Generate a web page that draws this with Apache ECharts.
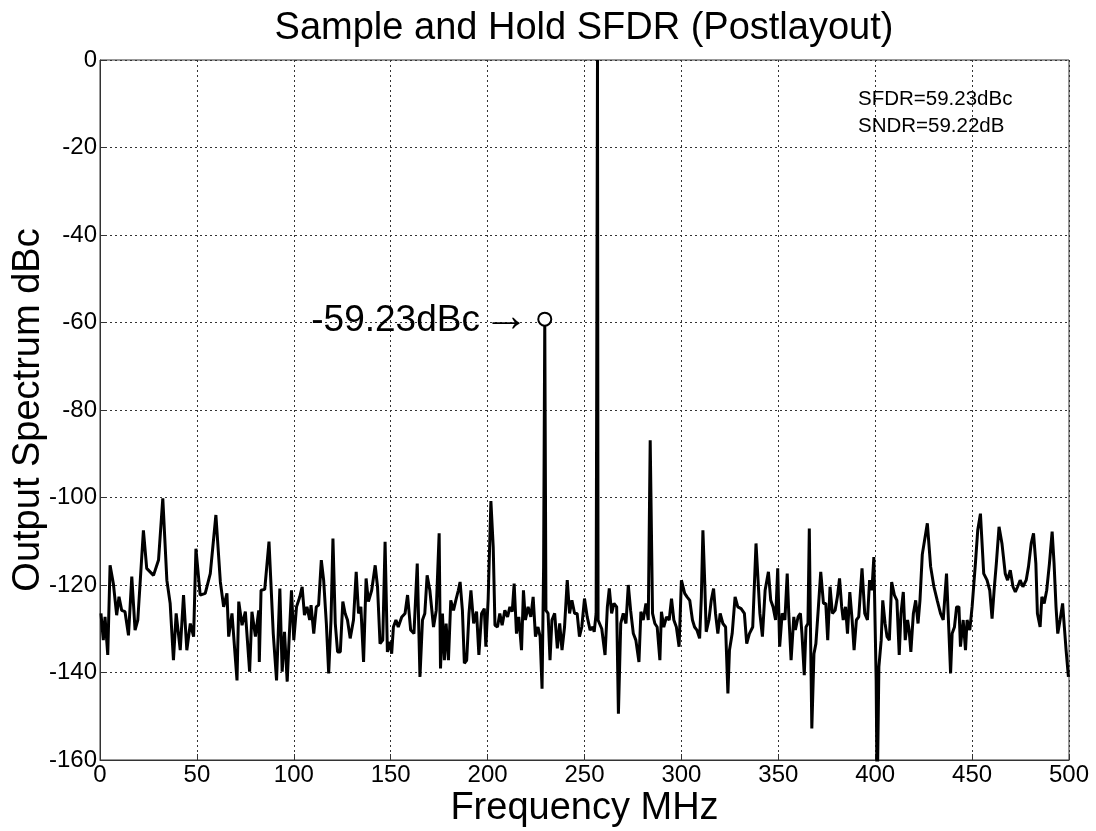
<!DOCTYPE html>
<html>
<head>
<meta charset="utf-8">
<title>Sample and Hold SFDR</title>
<script src="https://cdn.jsdelivr.net/npm/echarts@6/dist/echarts.min.js"></script>
<style>
  html, body { margin: 0; padding: 0; background: #fff; }
  #main { width: 1096px; height: 831px; }
</style>
</head>
<body>
<div id="main"></div>
<script>
// spectrum: frequency (MHz) and level (dBc)
var freqs = [
  0.5, 1.7, 2.6, 4.0, 5.2, 6.9, 8.6, 9.8, 11.2, 12.9, 14.7, 16.4, 18.1, 19.5, 22.4, 24.1, 27.6, 30.2, 32.4, 34.5,
  36.2, 37.9, 39.3, 41.4, 43.1, 44.8, 46.6, 48.3, 49.5, 51.7, 54.3, 56.9, 59.8, 62.1, 63.8, 65.5, 66.4, 68.1, 70.7, 71.6,
  73.3, 75.0, 77.2, 78.4, 80.2, 81.9, 82.2, 83.1, 85.0, 87.2, 89.4, 91.1, 92.8, 94.0, 95.2, 96.6, 97.4, 98.8, 100.0, 101.4,
  103.1, 104.3, 105.5, 106.8, 108.2, 108.9, 110.3, 111.6, 112.8, 114.2, 115.4, 116.8, 118.0, 119.2, 120.2, 121.4, 122.6, 124.0, 125.3, 126.5,
  127.7, 129.1, 130.8, 132.2, 133.4, 134.6, 136.0, 137.3, 138.5, 140.2, 142.0, 143.2, 144.5, 145.9, 147.1, 148.3, 149.7, 150.5, 151.4, 152.7,
  153.9, 155.7, 157.4, 158.7, 160.3, 162.0, 163.7, 165.1, 166.4, 167.6, 168.8, 170.2, 172.1, 173.5, 175.0, 175.7, 176.7, 177.7, 178.6, 179.8,
  181.0, 182.4, 183.6, 184.9, 185.8, 187.0, 188.0, 189.2, 190.4, 191.4, 192.8, 194.3, 195.5, 196.9, 198.3, 199.1, 200.3, 201.7, 202.9, 203.8,
  205.1, 206.3, 207.5, 208.9, 210.3, 211.5, 212.7, 213.7, 214.9, 216.1, 217.5, 218.5, 219.5, 220.9, 222.3, 223.5, 224.7, 226.0, 227.1, 228.1,
  228.9, 229.5, 230.1, 231.2, 232.2, 233.2, 234.6, 236.0, 237.2, 238.4, 239.7, 241.1, 242.3, 243.5, 244.9, 246.2, 247.4, 248.6, 250.0, 251.4,
  252.9, 254.3, 255.0, 256.0, 256.7, 257.0, 258.9, 260.6, 261.8, 262.8, 264.0, 265.2, 266.6, 267.5, 268.7, 270.0, 271.4, 272.6, 273.8, 275.2,
  276.5, 278.1, 279.1, 280.3, 281.7, 282.9, 283.9, 285.1, 286.3, 287.5, 288.9, 289.7, 290.9, 292.3, 293.7, 294.9, 296.1, 297.4, 298.8, 300.0,
  301.7, 302.9, 304.3, 305.7, 306.8, 308.0, 309.4, 310.3, 311.1, 312.0, 312.8, 314.2, 315.4, 316.6, 317.6, 318.8, 320.0, 321.4, 322.8, 324.0,
  324.8, 326.2, 327.7, 329.1, 330.8, 332.5, 333.7, 335.1, 336.8, 338.5, 340.5, 341.8, 343.2, 344.9, 346.1, 347.3, 348.6, 349.7, 350.7, 352.0,
  353.4, 354.6, 355.4, 356.6, 358.0, 358.8, 360.2, 361.4, 362.2, 363.4, 364.3, 365.3, 366.0, 366.5, 367.3, 368.4, 369.4, 370.7, 371.9, 373.3,
  374.5, 375.5, 376.7, 377.9, 379.3, 380.5, 381.6, 382.7, 383.5, 384.7, 385.7, 386.9, 388.1, 389.1, 390.3, 391.5, 393.2, 394.6, 396.0, 397.1,
  398.3, 399.3, 400.5, 401.0, 401.9, 403.1, 403.9, 405.1, 406.1, 407.3, 408.5, 409.9, 411.2, 412.4, 413.3, 414.5, 415.5, 416.7, 417.5, 418.4,
  419.7, 420.9, 422.1, 423.1, 424.3, 426.9, 428.6, 430.3, 432.0, 433.7, 435.1, 436.8, 438.0, 438.9, 439.7, 440.9, 442.0, 443.2, 444.0, 445.4,
  446.6, 447.4, 448.8, 450.0, 451.7, 452.9, 454.3, 456.0, 457.7, 459.1, 460.3, 461.5, 462.5, 463.9, 465.4, 467.1, 468.3, 469.7, 471.1, 472.3,
  473.5, 474.8, 476.2, 477.9, 479.1, 480.5, 481.7, 482.9, 483.7, 485.1, 486.0, 487.2, 488.5, 489.9, 491.3, 492.3, 493.3, 494.2, 495.4, 496.7,
  497.6, 498.5, 499.7
];
var levels = [
  -126.5, -132.6, -127.3, -136.0, -115.5, -119.7, -126.9, -122.7, -125.8, -126.1, -131.5, -118.1, -130.3, -128.0, -107.5, -116.2, -117.8, -114.3, -100.2, -118.9,
  -124.2, -137.2, -126.5, -134.9, -122.3, -134.9, -128.8, -131.8, -111.7, -122.3, -121.9, -117.4, -104.0, -119.3, -125.0, -121.9, -131.8, -126.5, -141.8, -123.8,
  -129.2, -126.1, -139.8, -126.1, -131.8, -125.8, -137.6, -121.2, -121.0, -110.1, -131.1, -141.8, -120.8, -139.8, -130.7, -142.1, -134.1, -121.2, -132.6, -125.0,
  -122.7, -120.4, -126.9, -125.0, -128.0, -124.6, -131.1, -125.0, -124.6, -114.3, -118.9, -128.8, -140.2, -128.0, -109.4, -128.8, -135.3, -135.3, -123.8, -126.5,
  -128.0, -132.2, -128.0, -117.0, -126.5, -125.0, -137.6, -118.5, -123.8, -121.2, -115.5, -120.4, -133.4, -132.6, -110.1, -135.3, -133.0, -135.7, -129.6, -128.0,
  -129.6, -127.3, -126.5, -122.3, -130.3, -131.1, -115.1, -141.0, -128.0, -126.5, -117.8, -121.2, -129.6, -125.8, -108.2, -139.1, -126.5, -137.2, -128.8, -137.2,
  -123.5, -125.8, -123.5, -121.2, -119.3, -125.8, -137.9, -137.2, -126.5, -121.2, -128.8, -126.1, -136.0, -126.5, -125.4, -134.1, -123.1, -100.8, -111.3, -129.2,
  -129.6, -126.5, -129.2, -125.8, -127.3, -125.0, -126.1, -119.7, -131.1, -127.3, -134.9, -121.2, -128.0, -125.0, -127.3, -122.7, -131.8, -129.6, -131.8, -143.7,
  -115.8, -59.23, -125.8, -126.5, -137.2, -128.0, -126.5, -134.5, -128.8, -134.9, -129.6, -118.9, -126.5, -123.5, -126.5, -126.5, -131.8, -129.6, -123.1, -127.3,
  -130.3, -129.6, -130.7, -126.5, 0, -128.0, -130.0, -136.0, -125.0, -120.8, -126.5, -124.2, -125.0, -149.4, -128.8, -126.5, -128.8, -120.0, -125.8, -131.1,
  -132.6, -137.6, -126.1, -128.0, -124.2, -128.0, -86.9, -126.5, -128.8, -129.6, -137.2, -126.1, -129.6, -127.3, -128.0, -123.1, -128.0, -129.6, -134.1, -118.9,
  -121.9, -122.7, -123.5, -128.0, -129.6, -130.3, -132.2, -122.7, -107.5, -118.9, -130.7, -128.0, -123.5, -120.8, -126.5, -131.1, -126.5, -128.8, -129.6, -144.8,
  -134.9, -131.1, -122.7, -125.0, -125.4, -126.5, -133.4, -131.1, -129.6, -110.5, -126.5, -131.8, -121.2, -117.0, -123.5, -125.0, -128.0, -116.2, -134.1, -126.5,
  -128.0, -117.4, -126.5, -137.2, -127.3, -130.3, -127.3, -126.5, -131.1, -140.6, -129.6, -128.8, -107.1, -126.5, -152.8, -135.7, -133.4, -125.0, -117.0, -124.2,
  -124.2, -132.6, -120.4, -126.5, -125.8, -122.7, -118.5, -125.0, -128.0, -125.0, -131.1, -121.6, -128.0, -134.9, -128.0, -127.3, -116.2, -126.5, -128.0, -118.9,
  -121.2, -113.6, -141.8, -170.0, -138.7, -132.6, -123.5, -128.8, -131.8, -132.6, -119.3, -122.3, -123.5, -136.0, -126.5, -121.6, -132.6, -128.0, -130.3, -135.3,
  -126.5, -123.5, -128.8, -123.5, -113.0, -105.9, -115.8, -120.4, -123.5, -126.5, -128.0, -117.4, -130.3, -140.2, -131.1, -129.6, -125.0, -125.0, -134.1, -128.0,
  -134.9, -128.0, -130.3, -125.0, -115.1, -107.5, -103.7, -117.4, -118.9, -121.2, -127.7, -120.4, -115.1, -106.7, -110.5, -117.4, -118.9, -116.6, -120.4, -121.6,
  -120.4, -118.9, -120.4, -118.9, -115.8, -110.5, -108.2, -115.1, -126.5, -129.6, -122.7, -124.2, -121.2, -115.1, -107.8, -115.1, -125.0, -131.1, -128.0, -124.2,
  -129.6, -134.9, -141.0
];

// the marked spur
var spurFreq = 229.5;
var spurLevel = -59.23;
var spurText = '-59.23dBc';
var statsText = ['SFDR=59.23dBc', 'SNDR=59.22dB'];

var chart = echarts.init(document.getElementById('main'));

var seriesData = [];
for (var i = 0; i < freqs.length; i++) {
    seriesData.push([freqs[i], levels[i]]);
}

var font = 'Liberation Sans, Arial, sans-serif';
var gridLine = { show: true, lineStyle: { color: '#333', type: [2, 3], width: 1 } };

var option = {
    animation: false,
    backgroundColor: '#fff',
    textStyle: { fontFamily: font },
    title: [
        {
            text: 'Sample and Hold SFDR (Postlayout)',
            left: 584,
            top: 10,
            padding: 0,
            textAlign: 'center',
            textStyle: { fontFamily: font, fontSize: 38, fontWeight: 'normal', color: '#000' }
        },
        {
            text: statsText.join('\n'),
            left: 858,
            top: 86,
            padding: 0,
            textStyle: { fontFamily: font, fontSize: 20.5, lineHeight: 27, fontWeight: 'normal', color: '#000' }
        }
    ],
    grid: {
        left: 100,
        right: 27,
        top: 60,
        bottom: 71,
        outerBoundsMode: 'none',
        containLabel: false,
        show: true,
        borderColor: '#333',
        borderWidth: 1
    },
    xAxis: {
        type: 'value',
        min: 0,
        max: 500,
        interval: 50,
        name: 'Frequency MHz',
        nameLocation: 'middle',
        nameGap: 30,
        nameMoveOverlap: false,
        nameTextStyle: { fontFamily: font, fontSize: 38, color: '#000' },
        axisLine: { show: true, onZero: false, lineStyle: { color: '#333' } },
        axisTick: { show: true, inside: true, length: 6, lineStyle: { color: '#333' } },
        axisLabel: { fontSize: 24, color: '#000', margin: 3 },
        splitLine: gridLine
    },
    yAxis: {
        type: 'value',
        min: -160,
        max: 0,
        interval: 20,
        name: 'Output Spectrum dBc',
        nameLocation: 'middle',
        nameGap: 52,
        nameMoveOverlap: false,
        nameTextStyle: { fontFamily: font, fontSize: 38, color: '#000' },
        axisLine: { show: true, onZero: false, lineStyle: { color: '#333' } },
        axisTick: { show: true, inside: true, length: 6, lineStyle: { color: '#333' } },
        axisLabel: { fontSize: 24, color: '#000', margin: 3 },
        splitLine: gridLine
    },
    series: [
        {
            type: 'line',
            data: seriesData,
            symbol: 'none',
            clip: true,
            lineStyle: { color: '#000', width: 3 },
            emphasis: { disabled: true },
            z: 3
        },
        {
            type: 'scatter',
            data: [[spurFreq, spurLevel]],
            symbol: 'emptyCircle',
            symbolSize: 13,
            itemStyle: { color: '#000', borderColor: '#000', borderWidth: 2, opacity: 1 },
            emphasis: { disabled: true },
            label: {
                show: true,
                position: 'left',
                distance: 8,
                offset: [0, 2],
                color: '#000',
                formatter: '{a|' + spurText + '} {b|\u2192}',
                rich: {
                    a: { fontFamily: font, fontSize: 37, color: '#000' },
                    b: { fontFamily: font, fontSize: 46, color: '#000', padding: [0, 0, 6, 0] }
                }
            },
            z: 4
        }
    ]
};

chart.setOption(option);
</script>
</body>
</html>
